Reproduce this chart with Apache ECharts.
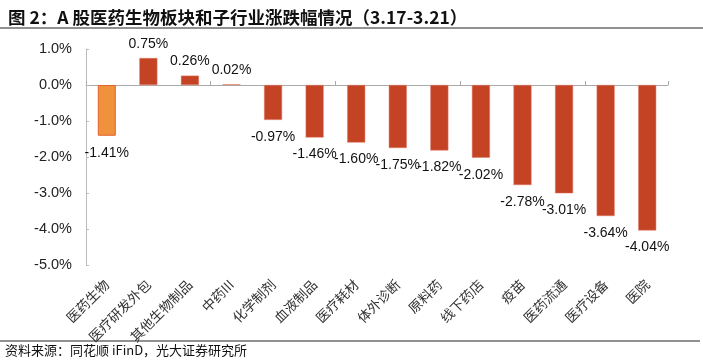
<!DOCTYPE html>
<html><head><meta charset="utf-8">
<script src="https://cdn.jsdelivr.net/npm/echarts@6/dist/echarts.min.js"></script>
<style>html,body{margin:0;padding:0;background:#fff}#c{width:703px;height:362px}</style>
</head><body><div id="c"></div>
<script>
const categories = ['医药生物','医疗研发外包','其他生物制品','中药III','化学制剂','血液制品','医疗耗材','体外诊断','原料药','线下药店','疫苗','医药流通','医疗设备','医院'];
const values = [-1.41,0.75,0.26,0.02,-0.97,-1.46,-1.60,-1.75,-1.82,-2.02,-2.78,-3.01,-3.64,-4.04];
const yTicks = [-5,-4,-3,-2,-1,0,1];
const titleText = '图 2：A 股医药生物板块和子行业涨跌幅情况（3.17-3.21）';
const sourceText = '资料来源：同花顺 iFinD，光大证券研究所';

const chart = echarts.init(document.getElementById('c'), null, {renderer:'canvas'});
const data = values.map((v,i)=>({
  value: v,
  itemStyle: i===0 ? {color:'#F0913E', borderColor:'#E5622A', borderWidth:1} : {color:'#C54325', borderColor:'#E07A66', borderWidth:0.5},
  label: v>=0 ? {position:'top',distance:7} : {position:'bottom',distance:10}
}));
chart.setOption({
  animation:false,
  title:{text:titleText,left:3,top:4,textStyle:{fontSize:17.5,fontWeight:'bold',color:'#111',fontFamily:'Noto Sans CJK SC'}},
  graphic:[
    {type:'line',shape:{x1:0,y1:28,x2:703,y2:28},style:{stroke:'#222',lineWidth:1}},
    {type:'line',shape:{x1:0,y1:341,x2:700,y2:341},style:{stroke:'#222',lineWidth:1}},
    {type:'text',left:5,top:344,style:{text:sourceText,fontSize:13,fill:'#111',fontFamily:'Noto Sans CJK SC'}}
  ],
  grid:{left:86,right:35,top:49,bottom:97},
  xAxis:[
    {type:'category',data:categories,position:'bottom',axisLine:{show:false,onZero:false},axisTick:{show:false},
     axisLabel:{rotate:45,interval:0,margin:17,fontSize:13.5,color:'#333',fontFamily:'Noto Sans CJK SC'}},
    {type:'category',data:categories,position:'bottom',axisLine:{show:true,onZero:true,lineStyle:{color:'#aaa',width:1}},
     axisTick:{show:true,inside:true,length:4,lineStyle:{color:'#aaa'}},axisLabel:{show:false}}
  ],
  yAxis:{type:'value',min:yTicks[0],max:yTicks[yTicks.length-1],interval:1,
    axisLine:{show:true,lineStyle:{color:'#bbb'}},axisTick:{show:true,inside:true,length:3,lineStyle:{color:'#bbb'}},
    splitLine:{show:false},
    axisLabel:{margin:14,fontSize:14.5,color:'#222',fontFamily:'Liberation Sans',formatter:v=>v.toFixed(1)+'%'}},
  series:[{type:'bar',data:data,barWidth:18,xAxisIndex:0,
    label:{show:true,fontSize:14,color:'#111',fontFamily:'Liberation Sans',formatter:p=>p.value.toFixed(2)+'%'}}]
});
</script></body></html>
